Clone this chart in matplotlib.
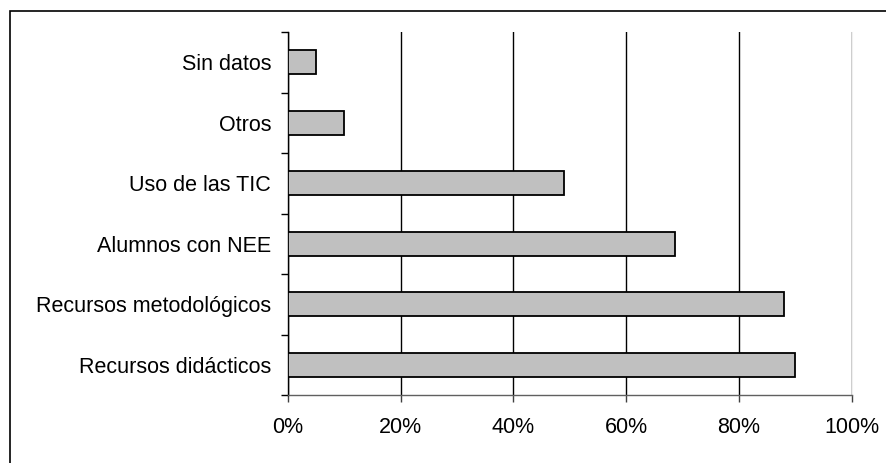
import matplotlib
matplotlib.use('agg')
import matplotlib.pyplot as plt
from matplotlib.patches import Rectangle
import numpy as np

# Data (bottom to top)
categories = ["Recursos didácticos", "Recursos metodológicos", "Alumnos con NEE",
              "Uso de las TIC", "Otros", "Sin datos"]
values = [90, 88, 68.6, 49, 10, 5]
x_ticks = [0, 20, 40, 60, 80, 100]
x_tick_labels = ["0%", "20%", "40%", "60%", "80%", "100%"]

plt.rcParams['font.family'] = ['Liberation Sans', 'DejaVu Sans']

fig = plt.figure(figsize=(8.87, 4.63), dpi=100)
ax = fig.add_axes([287.7 / 887, 1 - 395 / 463, (851.7 - 287.7) / 887, (395 - 32) / 463])

y = np.arange(len(categories))
ax.barh(y, values, height=0.39, color='#c0c0c0', edgecolor='black', linewidth=1.3, zorder=3)

ax.set_xlim(0, 100)
ax.set_ylim(-0.5, len(categories) - 0.5)

ax.set_xticks(x_ticks)
ax.set_xticklabels(x_tick_labels, fontsize=15.5)
ax.xaxis.grid(True, color='black', linewidth=1.0, zorder=0)

# category labels at centres, tick marks at the boundaries
ax.set_yticks(y)
ax.set_yticklabels(categories, fontsize=15.5)
ax.set_yticks(np.arange(-0.5, len(categories)), minor=True)
ax.tick_params(axis='y', which='major', length=0, pad=12)
ax.tick_params(axis='y', which='minor', length=5, width=1, color='black')
ax.tick_params(axis='x', length=5, width=1, color='#404040', pad=11)

ax.spines['top'].set_visible(False)
ax.spines['right'].set_color('#f0f0f0')
ax.spines['left'].set_color('black')
ax.spines['bottom'].set_color('#606060')
ax.spines['left'].set_linewidth(1.0)
ax.spines['bottom'].set_linewidth(1.0)

# outer chart frame (cut off at right and bottom)
fig.patches.append(Rectangle((10 / 887, -0.1), 1.2, 1 - 11 / 463 + 0.1,
                             transform=fig.transFigure, fill=False,
                             edgecolor='black', linewidth=1.2))

fig.savefig('out.png', dpi=100)
